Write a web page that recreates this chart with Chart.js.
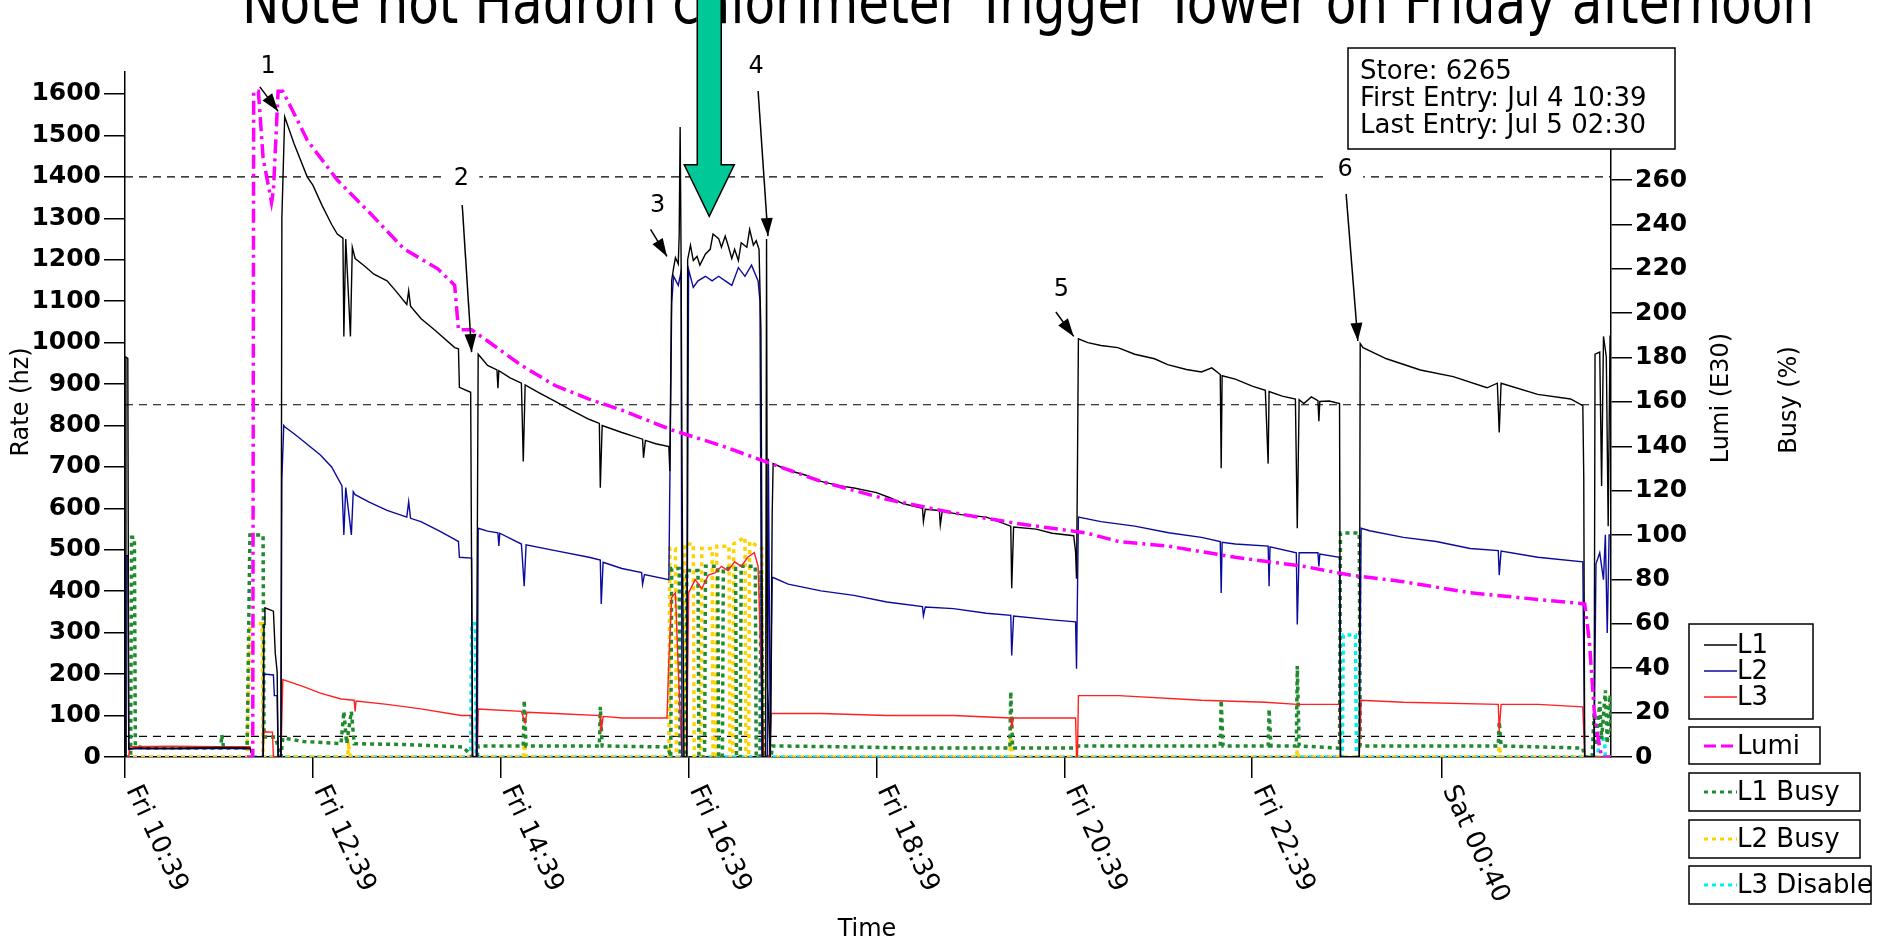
<!DOCTYPE html>
<html>
<head>
<meta charset="utf-8">
<title>Store 6265 trigger rates</title>
<script src="https://cdn.jsdelivr.net/npm/chart.js@4.4.1/dist/chart.umd.min.js"></script>
<style>
  html, body { margin: 0; padding: 0; background: #fff; }
  #graph { display: block; }
</style>
</head>
<body>
<canvas id="graph" width="1886" height="940"></canvas>
<script>
// hours after Fri 10:39, rates in Hz (left axis)
const l1Time = [0.00,0.01,0.03,0.04,0.10,0.50,1.00,1.33,1.36,1.47,1.48,1.49,1.58,1.60,1.62,1.63,1.66,1.67,1.70,1.80,
  1.94,2.00,2.10,2.20,2.26,2.32,2.33,2.35,2.40,2.42,2.45,2.55,2.65,2.79,2.90,3.00,3.02,3.04,3.15,3.30,
  3.51,3.55,3.56,3.68,3.70,3.74,3.76,3.86,3.96,3.97,3.98,4.10,4.22,4.24,4.26,4.40,4.58,4.75,4.94,5.05,
  5.06,5.08,5.29,5.40,5.51,5.52,5.54,5.65,5.79,5.80,5.82,5.84,5.86,5.89,5.90,5.91,5.92,5.93,5.95,5.98,
  5.99,6.02,6.05,6.09,6.12,6.18,6.23,6.26,6.32,6.35,6.39,6.42,6.46,6.49,6.53,6.56,6.62,6.65,6.69,6.72,
  6.75,6.77,6.79,6.82,6.83,6.84,6.87,6.89,6.90,7.06,7.25,7.41,7.60,7.76,8.00,8.15,8.29,8.49,8.50,8.52,
  8.67,8.68,8.70,8.90,9.17,9.30,9.43,9.44,9.46,9.70,9.87,10.10,10.12,10.13,10.14,10.15,10.25,10.39,10.57,10.75,
  10.96,11.10,11.30,11.46,11.57,11.66,11.67,11.68,11.82,12.00,12.14,12.17,12.18,12.32,12.46,12.48,12.50,12.55,12.63,12.70,
  12.71,12.72,12.82,12.93,12.94,13.14,13.15,13.18,13.43,13.79,14.14,14.50,14.61,14.63,14.65,15.04,15.39,15.52,15.53,15.54,
  15.64,15.65,15.70,15.72,15.74,15.77,15.79,15.81,15.82];
const l1Rate = [0,965,962,20,22,21,23,22,0,0,320,360,352,250,205,0,0,1300,1545,1480,
  1400,1380,1330,1285,1262,1252,1015,1250,1015,1230,1203,1185,1165,1149,1120,1092,1125,1088,1058,1030,
  988,985,892,880,0,0,972,945,934,890,932,915,902,713,898,880,858,837,815,805,
  650,800,783,775,767,722,764,756,749,690,1150,1180,1205,1190,1260,1520,1210,700,0,0,
  1200,1235,1198,1208,1187,1214,1225,1262,1251,1230,1257,1235,1203,1225,1198,1241,1230,1273,1235,1246,
  1225,1030,0,0,1250,170,0,585,708,692,680,665,655,649,638,625,611,600,568,598,
  595,560,593,585,579,568,557,407,555,550,540,534,495,430,700,1009,1000,993,988,972,
  961,947,935,929,939,923,697,920,912,895,885,708,882,871,864,552,862,853,869,860,
  810,858,859,853,0,0,998,988,961,934,918,891,902,783,902,875,864,848,676,0,
  0,972,977,654,1015,966,557,1015,1020];

const l2Time = [0.00,0.01,0.03,0.04,0.10,0.60,1.00,1.33,1.36,1.47,1.48,1.58,1.59,1.62,1.63,1.66,1.67,1.69,1.70,1.80,
  1.90,2.08,2.20,2.31,2.33,2.35,2.41,2.43,2.45,2.60,2.79,3.00,3.02,3.04,3.15,3.35,3.51,3.55,3.56,3.69,
  3.70,3.75,3.76,3.86,3.97,3.98,3.99,4.22,4.25,4.27,4.58,4.94,5.06,5.07,5.09,5.29,5.50,5.51,5.53,5.79,
  5.82,5.84,5.89,5.92,5.93,5.98,6.00,6.05,6.10,6.18,6.25,6.32,6.39,6.46,6.53,6.60,6.67,6.74,6.76,6.78,
  6.84,6.85,6.87,6.89,6.90,7.06,7.41,7.76,8.11,8.49,8.50,8.52,8.82,9.17,9.43,9.44,9.46,9.87,10.12,10.13,
  10.15,10.39,10.75,11.11,11.46,11.66,11.67,11.68,11.82,12.17,12.18,12.19,12.47,12.48,12.50,12.70,12.71,12.72,12.93,12.94,
  13.14,13.16,13.25,13.61,13.96,14.32,14.62,14.63,14.65,15.04,15.52,15.54,15.64,15.66,15.70,15.74,15.76,15.78,15.80,15.82];
const l2Rate = [0,486,486,18,20,20,21,20,0,0,200,198,148,148,0,0,670,800,797,780,
  762,729,700,654,536,650,536,640,633,615,595,579,616,576,568,545,525,520,482,480,
  0,0,552,545,541,509,540,514,412,512,498,482,475,369,470,455,445,417,440,428,
  1095,1160,1138,1171,0,0,1176,1133,1149,1160,1149,1160,1149,1138,1181,1160,1187,1149,1100,0,
  0,720,0,433,433,417,401,390,374,363,341,362,358,347,342,245,340,331,326,213,
  579,568,557,541,530,520,396,518,514,509,412,507,493,320,493,493,460,490,482,0,
  0,552,546,530,520,503,498,439,497,482,471,0,0,466,493,428,536,299,536,536];

const l3Time = [0.00,0.04,0.05,0.50,1.00,1.33,1.36,1.47,1.48,1.57,1.58,1.66,1.68,1.69,1.90,2.08,2.30,2.44,2.45,2.46,
  2.79,3.15,3.58,3.69,3.70,3.75,3.76,4.22,4.26,4.28,4.58,5.06,5.07,5.09,5.30,5.77,5.79,5.82,5.86,5.89,
  5.93,5.98,6.00,6.07,6.14,6.21,6.28,6.35,6.42,6.49,6.56,6.63,6.70,6.74,6.77,6.80,6.86,6.88,7.41,8.11,
  8.82,9.43,9.44,9.46,10.12,10.13,10.14,10.15,10.58,11.46,12.14,12.48,12.93,12.94,13.14,13.16,13.61,14.62,14.63,14.65,
  15.04,15.52,15.54,15.82];
const l3Rate = [0,0,25,26,25,25,0,0,61,60,0,0,187,186,170,154,140,137,110,135,
  127,116,100,100,0,0,116,110,83,108,105,100,62,98,94,94,234,385,396,213,
  0,0,396,428,406,439,444,460,450,471,460,482,493,460,223,0,0,105,105,100,
  100,94,73,94,94,0,0,148,148,137,132,127,127,0,0,137,132,127,62,127,
  127,121,0,0];

// luminosity in E30 (right axis)
const lumiTime = [1.30,1.36,1.37,1.42,1.47,1.56,1.58,1.63,1.68,1.80,1.94,2.26,2.61,2.97,3.33,3.51,3.55,3.69,3.86,4.22,
  4.58,4.94,5.29,5.82,6.35,6.81,7.41,8.11,8.82,9.52,10.23,10.58,11.11,11.82,12.54,13.04,13.61,14.32,15.04,15.54,
  15.59,15.64,15.67,15.72,15.82];
const lumiValue = [0,0,300,300,270,250,255,300,300,290,278,260,245,229,220,212.6,192.5,192.5,187.5,176.5,
  167.4,161.3,156.3,147.4,140.3,133.2,124.2,116.1,110,105.1,101,97.1,95,90,86,82,79,74,71,69,
  52,21.7,11.6,0,0];

// busy fractions in % (right axis)
const l1BusyTime = [0.00,0.06,0.07,0.10,0.11,0.20,0.60,1.02,1.03,1.05,1.30,1.33,1.47,1.48,1.60,1.66,1.68,1.90,2.30,2.33,
  2.36,2.41,2.44,3.00,3.60,3.70,3.75,3.76,4.24,4.25,4.27,5.05,5.06,5.08,5.78,5.81,5.82,5.90,5.91,5.97,
  5.98,6.10,6.11,6.17,6.18,6.31,6.32,6.36,6.37,6.50,6.51,6.55,6.56,6.71,6.72,6.76,6.77,6.80,6.88,6.89,
  7.80,8.50,9.42,9.43,9.45,10.12,10.15,11.66,11.67,11.69,12.17,12.18,12.20,12.47,12.48,12.50,12.93,12.94,13.14,13.15,
  14.62,14.63,14.65,15.52,15.54,15.62,15.64,15.66,15.70,15.72,15.76,15.78,15.81,15.82];
const l1BusyPct = [0,0,99,99,5,4,4,4,10,4,4,100,100,9,9,0,8.6,7,6,20.5,
  6,20.5,6,5.6,4.5,0,0,5,5,25.6,5,5,22.6,5,4.5,0,85,85,0,0,
  84,84,0,0,86,86,0,0,85,85,0,0,86,86,0,0,84,0,0,5,
  4.5,4,4,29.5,4,4,5,5,25.6,5,5,21.6,5,5,41,5,4,101,101,5,
  5,16,5,4,0,0,20,5,25,8,30,6,28,10];

const l2BusyTime = [0.00,1.30,1.33,1.46,1.47,2.37,2.38,2.40,4.24,4.25,4.27,5.79,5.80,5.86,5.87,5.95,5.96,6.05,6.06,6.13,
  6.14,6.25,6.26,6.29,6.30,6.43,6.44,6.47,6.48,6.60,6.61,6.64,6.65,6.78,6.79,9.42,9.43,9.45,12.47,12.48,
  12.50,14.62,14.63,14.65,15.82];
const l2BusyPct = [0,0,60,60,0,0,5,0,0,6,0,0,94,94,0,0,96,96,0,0,
  94,94,0,0,95,95,0,0,96,99,0,0,97,94,0,0,9,0,0,3,
  0,0,5,0,0];

const l3DisTime = [0.00,3.68,3.69,3.73,3.74,12.96,12.97,13.10,13.11,15.68,15.69,15.75,15.76,15.82];
const l3DisPct = [0,0,60,60,0,0,55,55,0,0,8,8,0,0];

const thresholdRates = [1400, 850, 50];

const xTickHours = [0, 2, 4, 6, 8, 10, 12, 14.017];
const xTickLabels = ["Fri 10:39", "Fri 12:39", "Fri 14:39", "Fri 16:39", "Fri 18:39", "Fri 20:39", "Fri 22:39", "Sat 00:40"];
const rateTicks = [0,100,200,300,400,500,600,700,800,900,1000,1100,1200,1300,1400,1500,1600];
const lumiTicks = [0,20,40,60,80,100,120,140,160,180,200,220,240,260];
const xMax = 15.82;
const rateMax = 1653;
const lumiMax = 308.7;

// numbered markers: label position, arrow tail, arrow tip (hours, Hz)
const markNames = ["1", "2", "3", "4", "5", "6"];
const markLabelAt = [[1.525, 1665], [3.58, 1395], [5.67, 1330], [6.72, 1666], [9.97, 1128], [12.99, 1418]];
const markFrom = [[1.436, 1617], [3.59, 1332], [5.595, 1273], [6.74, 1607], [9.91, 1074], [13.0, 1359]];
const markTo = [[1.63, 1558], [3.69, 977], [5.77, 1208], [6.845, 1257], [10.10, 1015], [13.125, 1004]];
const hotArrowAt = [6.22, 1429, 1305];

const titleText = "Note hot Hadron calorimeter Trigger Tower on Friday afternoon";
const infoLines = ["Store: 6265", "First Entry: Jul 4 10:39", "Last Entry: Jul 5 02:30"];

const FONT = "'DejaVu Sans', sans-serif";

function pts(t, v) {
  return t.map((x, i) => ({ x: x, y: v[i] }));
}

function arrowHead(ctx, x0, y0, x1, y1, len, half) {
  const a = Math.atan2(y1 - y0, x1 - x0);
  ctx.beginPath();
  ctx.moveTo(x1, y1);
  ctx.lineTo(x1 - len * Math.cos(a) + half * Math.sin(a), y1 - len * Math.sin(a) - half * Math.cos(a));
  ctx.lineTo(x1 - len * Math.cos(a) - half * Math.sin(a), y1 - len * Math.sin(a) + half * Math.cos(a));
  ctx.closePath();
  ctx.fill();
}

function legendLine(ctx, y, color, dash, width, text) {
  ctx.save();
  ctx.strokeStyle = color;
  ctx.lineWidth = width;
  ctx.setLineDash(dash);
  ctx.beginPath();
  ctx.moveTo(1704, y);
  ctx.lineTo(1737, y);
  ctx.stroke();
  ctx.restore();
  ctx.fillText(text, 1737, y + 1);
}

// -------------------------
// EXTRA DRAWING
// -------------------------
const overlay = {
  id: "overlay",
  afterDraw(c) {
    const ctx = c.ctx;
    const xs = c.scales.x, ys = c.scales.y;
    ctx.save();
    ctx.fillStyle = "#000";
    ctx.strokeStyle = "#000";

    // title, cut by the page top like in the slide
    ctx.font = "60px " + FONT;
    const tw = ctx.measureText(titleText).width;
    ctx.save();
    ctx.translate(242, 23);
    ctx.scale(1572 / tw, 1);
    ctx.textAlign = "left";
    ctx.textBaseline = "alphabetic";
    ctx.fillText(titleText, 0, 0);
    ctx.restore();

    // rotated time labels
    ctx.font = "26px " + FONT;
    ctx.textAlign = "left";
    ctx.textBaseline = "middle";
    xTickHours.forEach((h, i) => {
      const px = xs.getPixelForValue(h);
      ctx.save();
      ctx.translate(px + 7, xs.top + 30);
      ctx.rotate(65 * Math.PI / 180);
      ctx.fillText(xTickLabels[i], 0, 0);
      ctx.restore();
    });

    // axis titles
    ctx.font = "24px " + FONT;
    ctx.textAlign = "center";
    ctx.textBaseline = "middle";
    ctx.fillText("Time", 867, 930);
    [["Rate (hz)", 22, 402], ["Lumi (E30)", 1722, 398], ["Busy (%)", 1790, 400]].forEach(t => {
      ctx.save();
      ctx.translate(t[1], t[2]);
      ctx.rotate(-Math.PI / 2);
      ctx.fillText(t[0], 0, 0);
      ctx.restore();
    });

    // numbered markers
    ctx.font = "24px " + FONT;
    ctx.lineWidth = 1.5;
    markNames.forEach((name, i) => {
      const lx = xs.getPixelForValue(markLabelAt[i][0]);
      const ly = ys.getPixelForValue(markLabelAt[i][1]);
      ctx.fillStyle = "#fff";
      ctx.fillRect(lx - 18, ly - 15, 36, 30);
      ctx.fillStyle = "#000";
      ctx.fillText(name, lx, ly);
      const x0 = xs.getPixelForValue(markFrom[i][0]), y0 = ys.getPixelForValue(markFrom[i][1]);
      const x1 = xs.getPixelForValue(markTo[i][0]), y1 = ys.getPixelForValue(markTo[i][1]);
      ctx.beginPath();
      ctx.moveTo(x0, y0);
      ctx.lineTo(x1, y1);
      ctx.stroke();
      arrowHead(ctx, x0, y0, x1, y1, 18, 6);
    });

    // big green arrow
    const gx = xs.getPixelForValue(hotArrowAt[0]);
    const gb = ys.getPixelForValue(hotArrowAt[1]);
    const gt = ys.getPixelForValue(hotArrowAt[2]);
    ctx.beginPath();
    ctx.moveTo(gx - 12, -2);
    ctx.lineTo(gx - 12, gb);
    ctx.lineTo(gx - 25, gb);
    ctx.lineTo(gx, gt);
    ctx.lineTo(gx + 25, gb);
    ctx.lineTo(gx + 12, gb);
    ctx.lineTo(gx + 12, -2);
    ctx.closePath();
    ctx.fillStyle = "#00c896";
    ctx.fill();
    ctx.lineWidth = 1.5;
    ctx.stroke();

    // store info box
    ctx.fillStyle = "#fff";
    ctx.fillRect(1348, 48, 327, 101);
    ctx.strokeRect(1348, 48, 327, 101);
    ctx.fillStyle = "#000";
    ctx.font = "26px " + FONT;
    ctx.textAlign = "left";
    ctx.textBaseline = "alphabetic";
    infoLines.forEach((t, i) => ctx.fillText(t, 1360, 79 + i * 27));

    // legend boxes
    ctx.lineWidth = 1.5;
    ctx.fillStyle = "#fff";
    [[1689, 624, 124, 95], [1689, 727, 131, 37], [1689, 773, 171, 38], [1689, 820, 171, 38], [1689, 866, 182, 38]].forEach(b => {
      ctx.fillRect(b[0], b[1], b[2], b[3]);
      ctx.strokeRect(b[0], b[1], b[2], b[3]);
    });
    ctx.fillStyle = "#000";
    ctx.font = "26px " + FONT;
    ctx.textBaseline = "middle";
    legendLine(ctx, 645, "#000", [], 1.5, "L1");
    legendLine(ctx, 671, "#0a0a9c", [], 1.5, "L2");
    legendLine(ctx, 697, "#ff2020", [], 1.5, "L3");
    legendLine(ctx, 746, "#ff00ff", [12, 5], 3, "Lumi");
    legendLine(ctx, 792, "#1f8a2e", [4, 4], 3, "L1 Busy");
    legendLine(ctx, 839, "#ffd200", [4, 4], 3, "L2 Busy");
    legendLine(ctx, 885, "#00f0f0", [4, 4], 3, "L3 Disable");

    ctx.restore();
  }
};

// -------------------------
// INIT CHART
// -------------------------
function rateLine(label, t, v, color) {
  return { label: label, data: pts(t, v), borderColor: color, borderWidth: 1.4, yAxisID: "y" };
}
function busyLine(label, t, v, color) {
  return { label: label, data: pts(t, v), borderColor: color, borderWidth: 3.5, borderDash: [4, 4], yAxisID: "y2" };
}

const datasets = [
  { label: "Lumi", data: pts(lumiTime, lumiValue), borderColor: "#ff00ff", borderWidth: 3.5, borderDash: [14, 5, 3, 5], yAxisID: "y2" },
  rateLine("L1", l1Time, l1Rate, "#000000"),
  rateLine("L2", l2Time, l2Rate, "#0a0a9c"),
  rateLine("L3", l3Time, l3Rate, "#ff2020"),
  busyLine("L1 Busy", l1BusyTime, l1BusyPct, "#1f8a2e"),
  busyLine("L2 Busy", l2BusyTime, l2BusyPct, "#ffd200"),
  busyLine("L3 Disable", l3DisTime, l3DisPct, "#00f0f0")
];
thresholdRates.forEach(r => {
  datasets.push({ label: "", data: [{ x: 0, y: r }, { x: xMax, y: r }], borderColor: "#000", borderWidth: 1.2, borderDash: [8, 6], yAxisID: "y" });
});

const axisGrid = { drawOnChartArea: false, drawTicks: true, tickLength: 21, color: "#000", lineWidth: 1.5 };
const axisBorder = { display: true, color: "#000", width: 1.5 };
const tickFont = { family: "DejaVu Sans", size: 25, weight: "bold" };

new Chart(document.getElementById("graph").getContext("2d"), {
  type: "line",
  data: { datasets: datasets },
  options: {
    responsive: false,
    animation: false,
    devicePixelRatio: 1,
    elements: { point: { radius: 0 }, line: { tension: 0, fill: false } },
    layout: { padding: { top: 72, left: 0, right: 0, bottom: 0 } },
    plugins: { legend: { display: false }, tooltip: { enabled: false }, title: { display: false } },
    scales: {
      x: {
        type: "linear", min: 0, max: xMax,
        afterFit: s => { s.height = 183; },
        afterBuildTicks: s => { s.ticks = xTickHours.map(v => ({ value: v })); },
        ticks: { display: false },
        grid: axisGrid, border: axisBorder
      },
      y: {
        type: "linear", position: "left", min: 0, max: rateMax,
        afterFit: s => { s.width = 125; },
        afterBuildTicks: s => { s.ticks = rateTicks.map(v => ({ value: v })); },
        ticks: { color: "#000", font: tickFont, padding: 3, autoSkip: false, callback: v => String(v) },
        grid: axisGrid, border: axisBorder
      },
      y2: {
        type: "linear", position: "right", min: 0, max: lumiMax,
        afterFit: s => { s.width = 275; },
        afterBuildTicks: s => { s.ticks = lumiTicks.map(v => ({ value: v })); },
        ticks: { color: "#000", font: tickFont, padding: 3, autoSkip: false, callback: v => String(v) },
        grid: axisGrid, border: axisBorder
      }
    }
  },
  plugins: [overlay]
});
</script>
</body>
</html>
